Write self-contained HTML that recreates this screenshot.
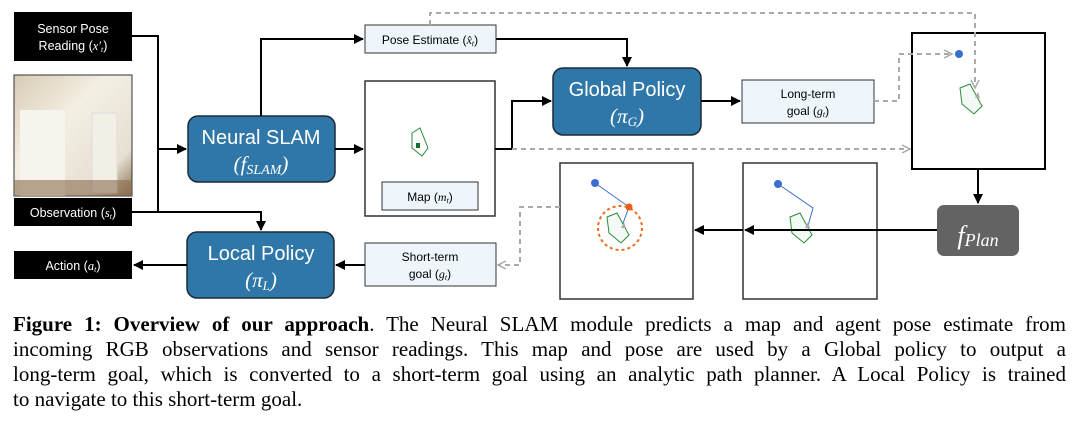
<!DOCTYPE html>
<html><head><meta charset="utf-8"><style>
body{margin:0;background:#fff;width:1078px;height:424px;overflow:hidden;position:relative}
svg{position:absolute;left:0;top:0}
.cap{position:absolute;left:13px;top:312px;width:1053px;font-family:"Liberation Serif",serif;font-size:21px;line-height:25px;color:#000}
.cap div{white-space:nowrap;text-align:justify;text-align-last:justify}
.cap div.l{text-align-last:left}
</style></head><body>
<svg width="1078" height="310" viewBox="0 0 1078 310" font-family="Liberation Sans, sans-serif">
<defs>
<marker id="a" markerWidth="10" markerHeight="10" refX="9" refY="5" orient="auto" markerUnits="userSpaceOnUse"><path d="M0,0L10,5L0,10z" fill="#000"/></marker>
<marker id="g" markerWidth="10" markerHeight="10" refX="9" refY="5" orient="auto" markerUnits="userSpaceOnUse"><path d="M1,1L9,5L1,9" fill="none" stroke="#aaa" stroke-width="1.5"/></marker>
<linearGradient id="ph" x1="0" y1="0" x2="1" y2="1"><stop offset="0" stop-color="#d8cbb5"/><stop offset="0.4" stop-color="#f3efe3"/><stop offset="0.8" stop-color="#e6e0d2"/><stop offset="1" stop-color="#8a6d4f"/></linearGradient>
</defs>
<rect x="14" y="12" width="118" height="49" fill="#000"/>
<text x="73" y="33" fill="#fff" font-size="12.5" text-anchor="middle">Sensor Pose</text>
<text x="73" y="50" fill="#fff" font-size="12.5" text-anchor="middle">Reading (<tspan font-family="Liberation Serif" font-style="italic">x′<tspan font-size="8" dy="2">t</tspan></tspan><tspan dy="-2">)</tspan></text>
<rect x="14" y="75" width="118" height="121" fill="url(#ph)" stroke="#333"/>
<rect x="20" y="110" width="45" height="86" fill="#f6f4ec"/>
<rect x="92" y="113" width="25" height="80" fill="#f2efe5" stroke="#ddd"/>
<rect x="14" y="180" width="118" height="16" fill="#8a6d4f" opacity="0.6"/>
<rect x="14" y="198" width="118" height="28" fill="#000"/>
<text x="73" y="217" fill="#fff" font-size="12.5" text-anchor="middle">Observation (<tspan font-family="Liberation Serif" font-style="italic">s<tspan font-size="8" dy="2">t</tspan></tspan><tspan dy="-2">)</tspan></text>
<rect x="14" y="251" width="118" height="28" fill="#000"/>
<text x="73" y="270" fill="#fff" font-size="12.5" text-anchor="middle">Action (<tspan font-family="Liberation Serif" font-style="italic">a<tspan font-size="8" dy="2">t</tspan></tspan><tspan dy="-2">)</tspan></text>
<rect x="188" y="116" width="147" height="66" rx="10" fill="#2f77a8" stroke="#1b2a36" stroke-width="1.5"/>
<text x="261" y="144" fill="#fff" font-size="20" text-anchor="middle">Neural SLAM</text>
<text x="261" y="171" fill="#fff" font-size="21" text-anchor="middle" font-family="Liberation Serif" font-style="italic">(f<tspan font-size="14" dy="3">SLAM</tspan><tspan dy="-3">)</tspan></text>
<rect x="187" y="232" width="147" height="66" rx="10" fill="#2f77a8" stroke="#1b2a36" stroke-width="1.5"/>
<text x="261" y="260" fill="#fff" font-size="20" text-anchor="middle">Local Policy</text>
<text x="261" y="287" fill="#fff" font-size="21" text-anchor="middle" font-family="Liberation Serif" font-style="italic">(π<tspan font-size="13" dy="3">L</tspan><tspan dy="-3">)</tspan></text>
<rect x="553" y="68" width="148" height="67" rx="10" fill="#2f77a8" stroke="#1b2a36" stroke-width="1.5"/>
<text x="627" y="96" fill="#fff" font-size="20" text-anchor="middle">Global Policy</text>
<text x="627" y="123" fill="#fff" font-size="21" text-anchor="middle" font-family="Liberation Serif" font-style="italic">(π<tspan font-size="13" dy="3">G</tspan><tspan dy="-3">)</tspan></text>
<rect x="937" y="205" width="82" height="51" rx="7" fill="#636363"/>
<text x="978" y="244" fill="#fff" font-size="26" text-anchor="middle" font-family="Liberation Serif" font-style="italic">f<tspan font-size="18" dy="2">Plan</tspan></text>
<rect x="365" y="25" width="131" height="28" fill="#eef6fc" stroke="#333"/>
<text x="430" y="44" font-size="12" text-anchor="middle">Pose Estimate (<tspan font-family="Liberation Serif" font-style="italic">x̂<tspan font-size="8" dy="2">t</tspan></tspan><tspan dy="-2">)</tspan></text>
<rect x="365" y="81" width="130" height="135" fill="#fff" stroke="#333" stroke-width="1.5"/>
<rect x="382" y="182" width="96" height="28" fill="#eef6fc" stroke="#333"/>
<text x="430" y="201" font-size="12" text-anchor="middle">Map (<tspan font-family="Liberation Serif" font-style="italic">m<tspan font-size="8" dy="2">t</tspan></tspan><tspan dy="-2">)</tspan></text>
<path d="M412,133l8,-5l8,20l-6,8l-10,-8z" fill="none" stroke="#2a8a3a"/><rect x="416" y="143" width="4" height="5" fill="#1a6a2a"/>
<rect x="365" y="243" width="131" height="43" fill="#eef6fc" stroke="#333"/>
<text x="430" y="261" font-size="12" text-anchor="middle">Short-term</text>
<text x="430" y="278" font-size="12" text-anchor="middle">goal (<tspan font-family="Liberation Serif" font-style="italic">g<tspan font-size="8" dy="2">t</tspan></tspan><tspan dy="-2">)</tspan></text>
<rect x="742" y="80" width="132" height="43" fill="#eef6fc" stroke="#333"/>
<text x="808" y="98" font-size="12" text-anchor="middle">Long-term</text>
<text x="808" y="115" font-size="12" text-anchor="middle">goal (<tspan font-family="Liberation Serif" font-style="italic">g<tspan font-size="8" dy="2">t</tspan></tspan><tspan dy="-2">)</tspan></text>
<rect x="912" y="33" width="133" height="136" fill="#fff" stroke="#000" stroke-width="2"/>
<circle cx="959" cy="54" r="4" fill="#3a6fd0"/>
<path d="M960,88l10,-4l12,22l-8,8l-12,-10z" fill="#f3faf6" stroke="#2a8a3a"/><path d="M975,98l5,0l-2,-6z" fill="#aaa"/>
<rect x="743" y="163" width="134" height="136" fill="#fff" stroke="#333" stroke-width="1.5"/>
<circle cx="778" cy="184" r="4" fill="#3a6fd0"/>
<path d="M778,184L813,208L808,226" stroke="#3a6fd0" fill="none"/>
<path d="M790,217l10,-4l12,22l-8,8l-12,-10z" fill="#f3faf6" stroke="#2a8a3a"/><path d="M805,228l5,0l-2,-6z" fill="#aaa"/>
<rect x="560" y="163" width="133" height="136" fill="#fff" stroke="#333" stroke-width="1.5"/>
<circle cx="595" cy="183" r="4" fill="#3a6fd0"/>
<path d="M595,183L629,207L622,226" stroke="#3a6fd0" fill="none"/>
<path d="M607,217l10,-4l12,22l-8,8l-12,-10z" fill="#f3faf6" stroke="#2a8a3a"/><path d="M621,228l5,0l-2,-6z" fill="#aaa"/>
<circle cx="620" cy="228" r="22" fill="none" stroke="#ee6a1a" stroke-width="2" stroke-dasharray="3,3"/>
<circle cx="629" cy="207" r="3.5" fill="#ee5a10"/>
<g stroke="#000" stroke-width="2" fill="none">
<path d="M132,36H158V212"/>
<path d="M158,149H186" marker-end="url(#a)"/>
<path d="M132,212H261V230" marker-end="url(#a)"/>
<path d="M261,116V39H363" marker-end="url(#a)"/>
<path d="M335,149H363" marker-end="url(#a)"/>
<path d="M187,265H134" marker-end="url(#a)"/>
<path d="M365,265H336" marker-end="url(#a)"/>
<path d="M496,39H627V66" marker-end="url(#a)"/>
<path d="M495,149H512V101H551" marker-end="url(#a)"/>
<path d="M701,101H740" marker-end="url(#a)"/>
<path d="M978,169V203" marker-end="url(#a)"/>
<path d="M937,230H745" marker-end="url(#a)"/>
<path d="M743,230H695" marker-end="url(#a)"/>
</g>
<g stroke="#aaa" stroke-width="2" fill="none" stroke-dasharray="5,4">
<path d="M430,25V13H975V88" marker-end="url(#g)"/>
<path d="M512,149H910" marker-end="url(#g)"/>
<path d="M874,101H899V54H952" marker-end="url(#g)"/>
<path d="M560,207H520V265H498" marker-end="url(#g)"/>
</g>
</svg>
<div class="cap">
<div><b>Figure 1: Overview of our approach</b>. The Neural SLAM module predicts a map and agent pose estimate from</div>
<div>incoming RGB observations and sensor readings. This map and pose are used by a Global policy to output a</div>
<div>long-term goal, which is converted to a short-term goal using an analytic path planner. A Local Policy is trained</div>
<div class="l">to navigate to this short-term goal.</div>
</div>
</body></html>
